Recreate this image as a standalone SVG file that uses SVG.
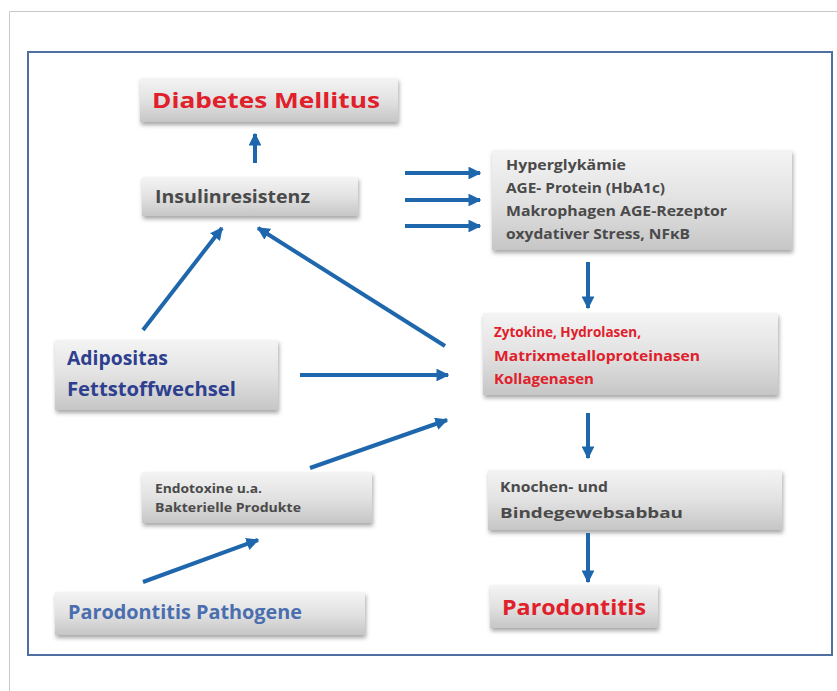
<svg xmlns="http://www.w3.org/2000/svg" width="837" height="691" viewBox="0 0 837 691">
<defs>
<linearGradient id="g" x1="0" y1="0" x2="0" y2="1">
<stop offset="0" stop-color="#f4f4f4"/>
<stop offset="0.5" stop-color="#e2e2e2"/>
<stop offset="1" stop-color="#c6c6c6"/>
</linearGradient>
<filter id="sh" x="-10%" y="-20%" width="120%" height="150%">
<feDropShadow dx="1" dy="3" stdDeviation="2" flood-color="#000" flood-opacity="0.35"/>
</filter>
<marker id="ah" viewBox="0 0 10 10" refX="9" refY="5" markerWidth="3.2" markerHeight="3.2" orient="auto" markerUnits="strokeWidth">
<path d="M0,0 L10,5 L0,10 Z" fill="#1f67ad"/>
</marker>
</defs>
<style>
.box{fill:url(#g);filter:url(#sh);}
.t{font-family:"Open Sans","Liberation Sans",Arial,sans-serif;font-weight:bold;}
.gray{fill:#4a4a4a;}
.red{fill:#e0202a;}
.blue{fill:#2e3f8f;}
.lblue{fill:#4a6eae;}
.c line{stroke:#1f67ad;stroke-width:4;marker-end:url(#ah);}
</style>
<rect width="837" height="691" fill="#fff"/>
<path d="M9.5,691 V11.5 H837" fill="none" stroke="#c8c8c8" stroke-width="1"/>
<rect x="28" y="52" width="804" height="603" fill="none" stroke="#4f6fa0" stroke-width="2"/>

<g id="diabetes"><rect class="box" x="140" y="78" width="258" height="44"/><text class="t red" x="152" y="108" font-size="22" textLength="228" lengthAdjust="spacingAndGlyphs">Diabetes Mellitus</text></g>
<g id="insulin"><rect class="box" x="142" y="177" width="216" height="39"/><text class="t gray" x="155" y="203" font-size="18" textLength="155" lengthAdjust="spacingAndGlyphs">Insulinresistenz</text></g>
<g id="hyper"><rect class="box" x="492" y="150" width="300" height="100"/>
<text class="t gray" font-size="14"><tspan x="506" y="170" textLength="120" lengthAdjust="spacingAndGlyphs">Hyperglykämie</tspan><tspan x="506" y="193" textLength="159" lengthAdjust="spacingAndGlyphs">AGE- Protein (HbA1c)</tspan><tspan x="506" y="216" textLength="221" lengthAdjust="spacingAndGlyphs">Makrophagen AGE-Rezeptor</tspan><tspan x="506" y="239" textLength="184" lengthAdjust="spacingAndGlyphs">oxydativer Stress, NFκB</tspan></text></g>
<g id="zytokine"><rect class="box" x="483" y="313" width="295" height="82"/>
<text class="t red" font-size="14"><tspan x="494" y="337" textLength="147" lengthAdjust="spacingAndGlyphs">Zytokine, Hydrolasen,</tspan><tspan x="494" y="361" textLength="206" lengthAdjust="spacingAndGlyphs">Matrixmetalloproteinasen</tspan><tspan x="494" y="384" textLength="100" lengthAdjust="spacingAndGlyphs">Kollagenasen</tspan></text></g>
<g id="adipositas"><rect class="box" x="55" y="340" width="223" height="70"/>
<text class="t blue" font-size="20"><tspan x="67" y="365" textLength="101" lengthAdjust="spacingAndGlyphs">Adipositas</tspan><tspan x="67" y="396" textLength="169" lengthAdjust="spacingAndGlyphs">Fettstoffwechsel</tspan></text></g>
<g id="endotoxine"><rect class="box" x="142" y="472" width="230" height="51"/>
<text class="t gray" font-size="12"><tspan x="155" y="493" textLength="107" lengthAdjust="spacingAndGlyphs">Endotoxine u.a.</tspan><tspan x="155" y="512" textLength="146" lengthAdjust="spacingAndGlyphs">Bakterielle Produkte</tspan></text></g>
<g id="knochen"><rect class="box" x="488" y="470" width="294" height="60"/>
<text class="t gray"><tspan x="500" y="492" font-size="14.5" textLength="108" lengthAdjust="spacingAndGlyphs">Knochen- und</tspan><tspan x="500" y="518" font-size="15" textLength="183" lengthAdjust="spacingAndGlyphs">Bindegewebsabbau</tspan></text></g>
<g id="parodontitis"><rect class="box" x="490" y="585" width="168" height="43"/><text class="t red" x="502" y="615" font-size="22" textLength="144" lengthAdjust="spacingAndGlyphs">Parodontitis</text></g>
<g id="pathogene"><rect class="box" x="55" y="592" width="310" height="43"/><text class="t lblue" x="68" y="619" font-size="19" textLength="234" lengthAdjust="spacingAndGlyphs">Parodontitis  Pathogene</text></g>

<g id="connectors" class="c">
<line x1="255" y1="163" x2="255" y2="134"/>
<line x1="405" y1="173" x2="480" y2="173"/>
<line x1="405" y1="200" x2="480" y2="200"/>
<line x1="405" y1="226" x2="480" y2="226"/>
<line x1="588" y1="262" x2="588" y2="308"/>
<line x1="588" y1="413" x2="588" y2="458"/>
<line x1="588" y1="533" x2="588" y2="582"/>
<line x1="143" y1="330" x2="222" y2="228"/>
<line x1="445" y1="346" x2="258" y2="228"/>
<line x1="300" y1="375" x2="448" y2="375"/>
<line x1="310" y1="468" x2="447" y2="420"/>
<line x1="143" y1="582" x2="258" y2="540"/>
</g>
</svg>
